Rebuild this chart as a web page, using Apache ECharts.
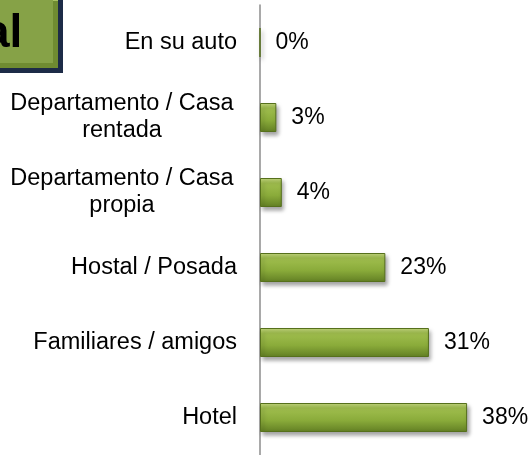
<!DOCTYPE html>
<html>
<head>
<meta charset="utf-8">
<script src="https://cdn.jsdelivr.net/npm/echarts@6/dist/echarts.min.js"></script>
<style>
  html, body { margin: 0; padding: 0; background: #fff; }
  #chart { width: 531px; height: 455px; }
</style>
</head>
<body>
<div id="chart"></div>
<script>
var categories = ['En su auto', 'Departamento / Casa\nrentada', 'Departamento / Casa\npropia', 'Hostal / Posada', 'Familiares / amigos', 'Hotel'];
var values = [0, 3, 4, 23, 31, 38];
var boxTitle = 'al';

var chart = echarts.init(document.getElementById('chart'));
var font = '"Liberation Sans", Arial, sans-serif';

var option = {
  animation: false,
  grid: {
    left: 260,
    right: 53,
    top: 5,
    bottom: -6
  },
  xAxis: {
    type: 'value',
    min: 0,
    max: 40,
    show: false
  },
  yAxis: {
    type: 'category',
    inverse: true,
    data: categories,
    axisLine: { show: true, lineStyle: { color: '#8c8c8c', width: 1.5 } },
    axisTick: { show: false },
    axisLabel: {
      margin: 23,
      color: '#000',
      fontFamily: font,
      fontSize: 23.5,
      lineHeight: 27,
      align: 'right',
      formatter: function (v) {
        if (v.indexOf('\n') < 0) return v;
        return v.split('\n').map(function (s) { return '{c|' + s + '}'; }).join('\n');
      },
      rich: {
        c: { width: 230, align: 'center', fontSize: 23.5, lineHeight: 27, fontFamily: font, color: '#000' }
      }
    }
  },
  series: [{
    type: 'bar',
    data: values,
    barWidth: 29,
    itemStyle: {
      color: new echarts.graphic.LinearGradient(0, 0, 0, 1, [
        { offset: 0, color: '#c6da80' },
        { offset: 0.18, color: '#a0be4e' },
        { offset: 0.6, color: '#8aab3a' },
        { offset: 1, color: '#627f24' }
      ]),
      borderColor: '#56701c',
      borderWidth: 1,
      shadowBlur: 4,
      shadowOffsetX: 2,
      shadowOffsetY: 3,
      shadowColor: 'rgba(0,0,0,0.35)'
    },
    label: {
      show: true,
      position: 'right',
      distance: 15,
      formatter: '{c}%',
      color: '#000',
      fontFamily: font,
      fontSize: 23
    }
  }],
  graphic: [
    { type: 'rect', shape: { x: -5, y: -5, width: 68, height: 78 }, style: { fill: '#1d2b47' } },
    { type: 'rect', shape: { x: -5, y: -5, width: 63, height: 73 }, style: { fill: '#6f8b31' } },
    { type: 'rect', shape: { x: -5, y: -5, width: 63, height: 6 }, style: { fill: '#a9c262' } },
    { type: 'rect', shape: { x: -5, y: -5, width: 58, height: 68 }, style: { fill: '#86a247' } },
    {
      type: 'text',
      left: -16,
      top: 11,
      style: { text: boxTitle, fill: '#000', font: 'bold 46px ' + font }
    }
  ]
};

chart.setOption(option);
</script>
</body>
</html>
